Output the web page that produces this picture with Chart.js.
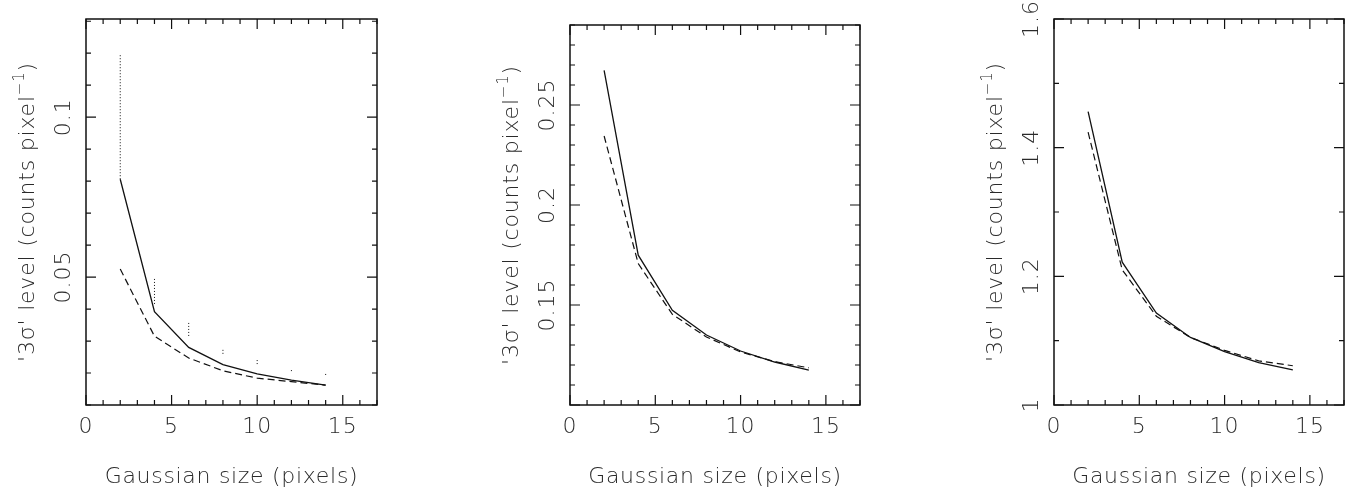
<!DOCTYPE html>
<html>
<head>
<meta charset="utf-8">
<script src="https://cdn.jsdelivr.net/npm/chart.js@4.4.0/dist/chart.umd.min.js"></script>
<style>
  body { margin: 0; background: #fff; width: 1354px; height: 493px; position: relative; overflow: hidden; }
  canvas { position: absolute; top: 0; }
</style>
</head>
<body>
<canvas id="c1" width="450" height="493" style="left:0px"></canvas>
<canvas id="c2" width="450" height="493" style="left:480px"></canvas>
<canvas id="c3" width="394" height="493" style="left:960px"></canvas>
<script>
// gaussian sizes (x) shared by all three panels
const sizes = [2, 4, 6, 8, 10, 12, 14];
const xLabels = [0, 5, 10, 15];

// left panel
const p1Solid  = [0.0806, 0.0392, 0.0280, 0.0226, 0.0197, 0.0178, 0.0162];
const p1Dashed = [0.0525, 0.0315, 0.0247, 0.0207, 0.0184, 0.0173, 0.0162];
const p1DotLow  = [0.0806, 0.0416, 0.0316, 0.0260, 0.0228, 0.0206, 0.0194];
const p1DotHigh = [0.1200, 0.0500, 0.0359, 0.0278, 0.0244, 0.0212, 0.0199];
const p1YLabels = [0.05, 0.1];

// middle panel
const p2Solid  = [0.2673, 0.1749, 0.1473, 0.1350, 0.1270, 0.1215, 0.1174];
const p2Dashed = [0.2345, 0.1707, 0.1453, 0.1340, 0.1265, 0.1217, 0.1186];
const p2YLabels = [0.15, 0.2, 0.25];

// right panel
const p3Solid  = [1.456, 1.222, 1.143, 1.105, 1.083, 1.066, 1.0545];
const p3Dashed = [1.424, 1.210, 1.138, 1.105, 1.085, 1.0686, 1.061];
const p3YLabels = [1, 1.2, 1.4, 1.6];

const FONT = '"DejaVu Sans", sans-serif';
const INK = '#111';
const TXT = '#2a2a2a';

function pts(ys) {
  return sizes.map((x, i) => ({ x: x, y: ys[i] }));
}

function segs(lo, hi) {
  const out = [];
  sizes.forEach((x, i) => {
    out.push({ x: x, y: lo[i] }, { x: x, y: hi[i] }, { x: x, y: null });
  });
  return out;
}

// pgplot style box: inward ticks on all four sides, labels and titles
const framePlugin = {
  id: 'frame',
  afterDraw(chart, args, o) {
    const ctx = chart.ctx;
    const a = chart.chartArea;
    const xs = chart.scales.x, ys = chart.scales.y;
    ctx.save();
    ctx.strokeStyle = INK;
    ctx.lineWidth = 1.5;
    ctx.strokeRect(a.left, a.top, a.right - a.left, a.bottom - a.top);
    ctx.lineWidth = 1.2;
    ctx.beginPath();
    for (let v = 0; v <= xs.max + 1e-9; v += 1) {
      const len = v % 5 === 0 ? 10 : 5;
      const px = xs.getPixelForValue(v);
      ctx.moveTo(px, a.bottom); ctx.lineTo(px, a.bottom - len);
      ctx.moveTo(px, a.top); ctx.lineTo(px, a.top + len);
    }
    const n = Math.round((ys.max - o.yStart) / o.yMinor);
    for (let k = 0; k <= n; k++) {
      const v = o.yStart + k * o.yMinor;
      if (v > ys.max + 1e-9) break;
      const major = Math.abs(v / o.yMajor - Math.round(v / o.yMajor)) < 1e-6;
      const len = major ? 10 : 5;
      const py = ys.getPixelForValue(v);
      ctx.moveTo(a.left, py); ctx.lineTo(a.left + len, py);
      ctx.moveTo(a.right, py); ctx.lineTo(a.right - len, py);
    }
    ctx.stroke();

    ctx.fillStyle = TXT;
    ctx.letterSpacing = '1px';
    ctx.font = '200 22px ' + FONT;
    ctx.textAlign = 'center';
    ctx.textBaseline = 'middle';
    xLabels.forEach(v => ctx.fillText(String(v), xs.getPixelForValue(v), a.bottom + 22));
    ctx.letterSpacing = '0.7px';
    ctx.fillText('Gaussian size (pixels)', (a.left + a.right) / 2, 477);

    // rotated y tick labels
    ctx.letterSpacing = '1px';
    ctx.font = '200 22px ' + FONT;
    ctx.textBaseline = 'alphabetic';
    o.yLabels.forEach(v => {
      ctx.save();
      ctx.translate(a.left - 16, ys.getPixelForValue(v));
      ctx.rotate(-Math.PI / 2);
      ctx.fillText(String(v), 0, 0);
      ctx.restore();
    });

    // rotated y title with superscript
    const main = "'3σ' level (counts pixel", sup = '−1', end = ')';
    ctx.letterSpacing = '0.8px';
    ctx.save();
    ctx.translate(a.left - 52, (a.top + a.bottom) / 2);
    ctx.rotate(-Math.PI / 2);
    ctx.textAlign = 'left';
    ctx.font = '200 22px ' + FONT;
    const w1 = ctx.measureText(main).width, w3 = ctx.measureText(end).width;
    ctx.font = '200 15px ' + FONT;
    const w2 = ctx.measureText(sup).width;
    let x0 = -(w1 + w2 + w3) / 2;
    ctx.font = '200 22px ' + FONT;
    ctx.fillText(main, x0, 0);
    ctx.font = '200 15px ' + FONT;
    ctx.fillText(sup, x0 + w1, -10);
    ctx.font = '200 22px ' + FONT;
    ctx.fillText(end, x0 + w1 + w2, 0);
    ctx.restore();
    ctx.restore();
  }
};

function makeChart(id, datasets, yMin, yMax, pad, frame) {
  return new Chart(document.getElementById(id), {
    type: 'line',
    data: { datasets: datasets },
    options: {
      responsive: false,
      animation: false,
      layout: { padding: pad },
      plugins: { legend: { display: false }, tooltip: { enabled: false }, frame: frame },
      elements: { point: { radius: 0 }, line: { tension: 0 } },
      scales: {
        x: { type: 'linear', min: 0, max: 17, display: false },
        y: { type: 'linear', min: yMin, max: yMax, display: false }
      }
    },
    plugins: [framePlugin]
  });
}

function solid(ys) {
  return { data: pts(ys), borderColor: INK, borderWidth: 1.3, fill: false };
}
function dashed(ys) {
  return { data: pts(ys), borderColor: INK, borderWidth: 1.2, borderDash: [7, 4], fill: false };
}

makeChart('c1', [
  solid(p1Solid),
  dashed(p1Dashed),
  { data: segs(p1DotLow, p1DotHigh), borderColor: INK, borderWidth: 1, borderDash: [1, 2], spanGaps: false, fill: false }
], 0.01, 0.1307, { left: 86, right: 73, top: 19, bottom: 88 },
  { yStart: 0.01, yMinor: 0.01, yMajor: 0.05, yLabels: p1YLabels });

makeChart('c2', [solid(p2Solid), dashed(p2Dashed)],
  0.1, 0.29, { left: 90, right: 70, top: 25, bottom: 88 },
  { yStart: 0.1, yMinor: 0.01, yMajor: 0.05, yLabels: p2YLabels });

makeChart('c3', [solid(p3Solid), dashed(p3Dashed)],
  1, 1.6, { left: 94, right: 10, top: 19, bottom: 88 },
  { yStart: 1, yMinor: 0.1, yMajor: 0.2, yLabels: p3YLabels });
</script>
</body>
</html>
